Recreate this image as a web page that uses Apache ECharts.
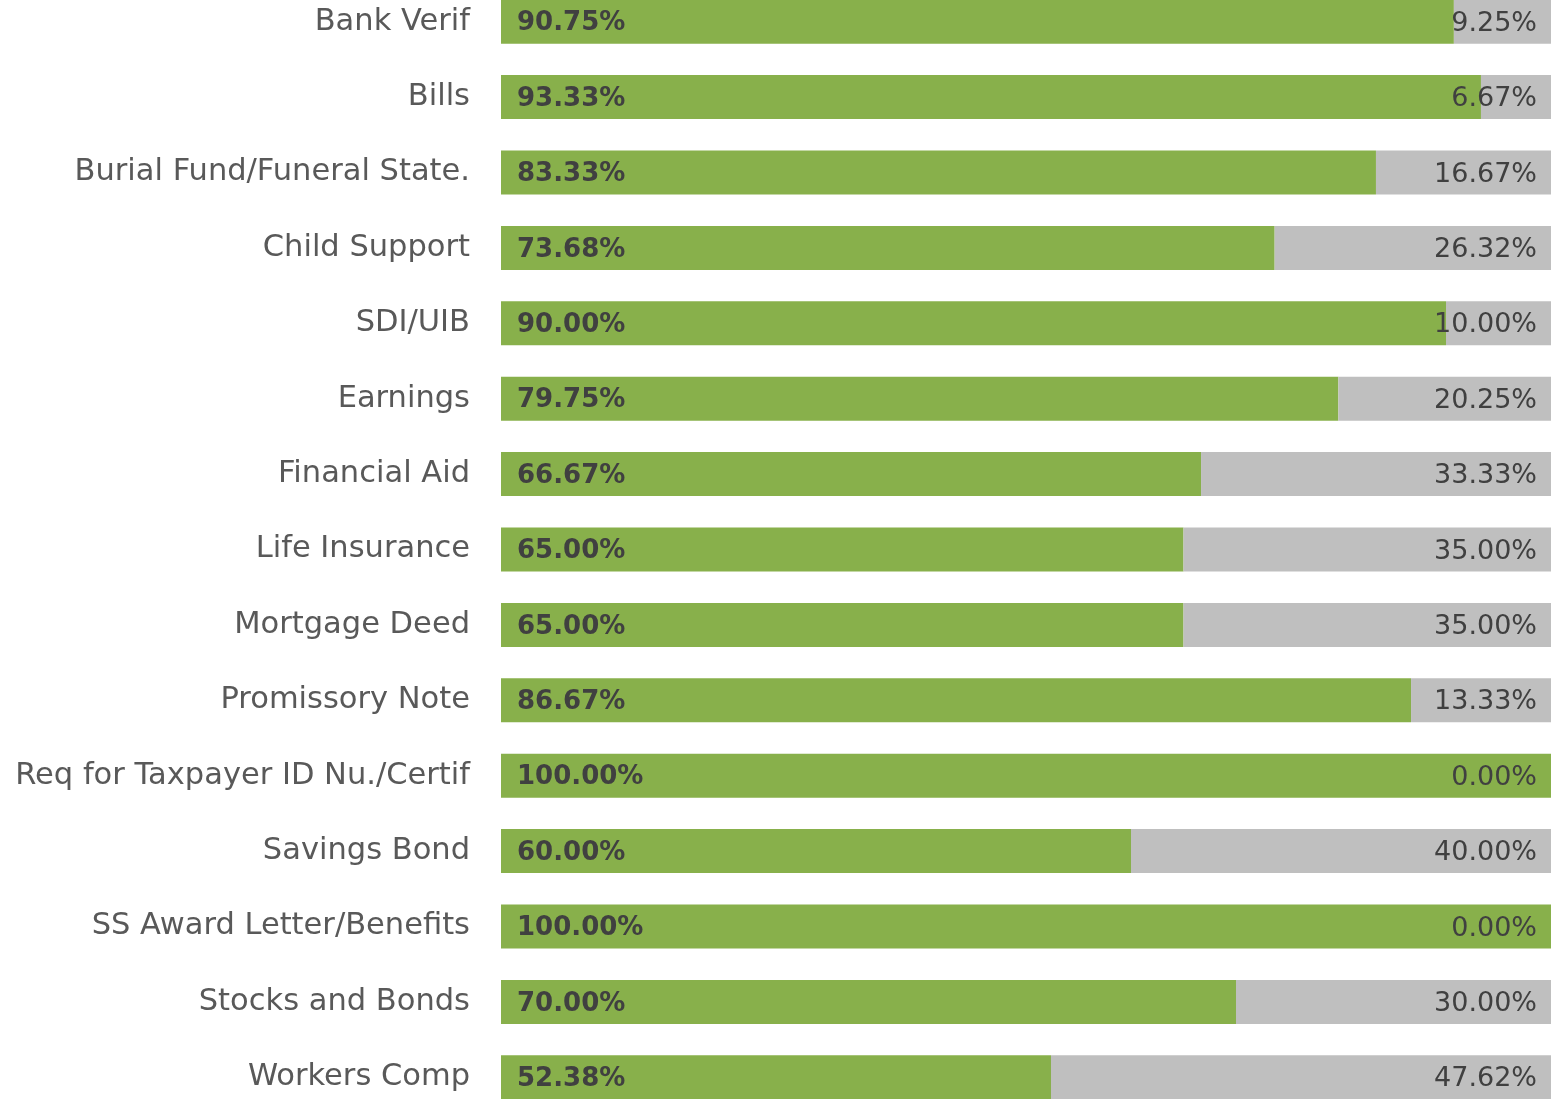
<!DOCTYPE html>
<html>
<head>
<meta charset="utf-8">
<script src="https://cdn.jsdelivr.net/npm/echarts@6/dist/echarts.min.js"></script>
<style>
  html, body { margin: 0; padding: 0; background: #fff; overflow: hidden; }
  /* plot is a bit taller than the window so the first and last bars touch the edges */
  #chart { width: 1551px; height: 1131px; margin-top: -16px; }
</style>
</head>
<body>
<div id="chart"></div>
<script>
  // categories top to bottom
  const categories = [
    'Bank Verif', 'Bills', 'Burial Fund/Funeral State.', 'Child Support', 'SDI/UIB',
    'Earnings', 'Financial Aid', 'Life Insurance', 'Mortgage Deed', 'Promissory Note',
    'Req for Taxpayer ID Nu./Certif', 'Savings Bond', 'SS Award Letter/Benefits',
    'Stocks and Bonds', 'Workers Comp'
  ];
  const yesValues = [90.75, 93.33, 83.33, 73.68, 90.00, 79.75, 66.67, 65.00, 65.00, 86.67, 100.00, 60.00, 100.00, 70.00, 52.38];
  const noValues = [9.25, 6.67, 16.67, 26.32, 10.00, 20.25, 33.33, 35.00, 35.00, 13.33, 0.00, 40.00, 0.00, 30.00, 47.62];

  const font = 'DejaVu Sans';
  const chart = echarts.init(document.getElementById('chart'));

  const option = {
    animation: false,
    grid: { left: 501, right: 0, top: 0, bottom: 0, containLabel: false },
    xAxis: { type: 'value', min: 0, max: 100, show: false },
    yAxis: {
      type: 'category',
      data: categories,
      inverse: true,
      axisLine: { show: false },
      axisTick: { show: false },
      axisLabel: { margin: 31, color: '#595959', fontFamily: font, fontSize: 30.5, padding: [4, 0, 0, 0] }
    },
    series: [
      {
        name: 'yes',
        type: 'bar',
        stack: 'total',
        barWidth: 44,
        itemStyle: { color: '#88B04B' },
        label: {
          show: true,
          position: 'insideLeft',
          distance: 16,
          offset: [0, 2],
          color: '#404040',
          fontWeight: 'bold',
          fontFamily: font,
          fontSize: 26,
          formatter: p => p.value.toFixed(2) + '%'
        },
        data: yesValues
      },
      {
        name: 'no',
        type: 'bar',
        stack: 'total',
        barWidth: 44,
        itemStyle: { color: '#BFBFBF' },
        label: {
          show: true,
          position: 'insideRight',
          distance: 14,
          offset: [0, 2],
          color: '#404040',
          fontFamily: font,
          fontSize: 27,
          formatter: p => p.value.toFixed(2) + '%'
        },
        data: noValues
      }
    ]
  };

  chart.setOption(option);
</script>
</body>
</html>
